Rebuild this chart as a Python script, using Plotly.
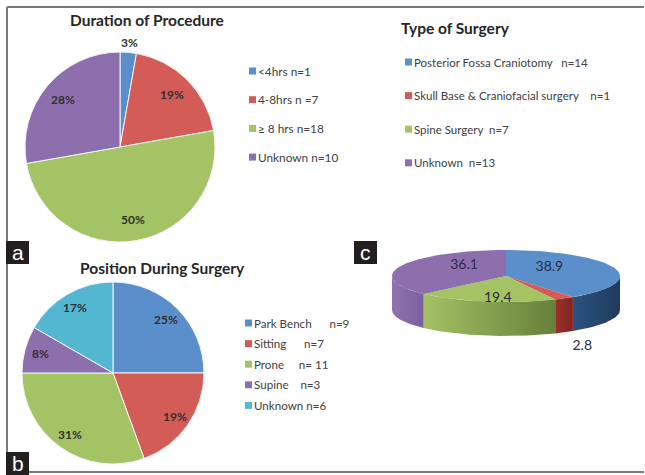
import html
import numpy as np
import plotly.graph_objects as go

W, H = 645, 475

# ---------------- data ----------------
DUR_TITLE = "Duration of Procedure"
DUR_LABELS = ["<4hrs n=1", "4-8hrs n =7", "≥ 8 hrs n=18", "Unknown n=10"]
DUR_VALUES = [1, 7, 18, 10]

POS_TITLE = "Position During Surgery"
POS_LABELS = ["Park Bench      n=9", "Sitting      n=7", "Prone     n= 11", "Supine    n=3", "Unknown n=6"]
POS_VALUES = [9, 7, 11, 3, 6]

TYPE_TITLE = "Type of Surgery"
TYPE_LABELS = ["Posterior Fossa Craniotomy   n=14", "Skull Base & Craniofacial surgery    n=1",
               "Spine Surgery  n=7", "Unknown  n=13"]
TYPE_PCT = [38.9, 2.8, 19.4, 36.1]

PANEL_LETTERS = ["a", "b", "c"]

# ---------------- style ----------------
BLUE, RED, GREEN, PURPLE, CYAN = "#5a8fcb", "#d45c57", "#a3c365", "#8e6fae", "#54b7d1"
COLORS = [BLUE, RED, GREEN, PURPLE, CYAN]
SIDE_GRAD = [("#2b5482", "#1f3a5c"), ("#a0302c", "#7e2522"),
             ("#a4c163", "#67803c"), ("#8f72b0", "#7c5f9d")]
FONT = "Lato"
TXT = "#404040"


def px(x):
    return x / W


def py(y):
    return 1 - y / H


fig = go.Figure()
shapes = []
annotations = []

# pie geometry (pixels): centre x, centre y, radius, label radius fraction
PIE_A = (120, 147, 95, 0.78)
PIE_B = (113, 373, 91, 0.83)


def add_pie(labels, values, geom, ncol):
    cx0, cy0, R, lf = geom
    fig.add_trace(go.Pie(
        labels=labels, values=values, sort=False, direction="clockwise",
        marker=dict(colors=COLORS[:ncol], line=dict(color="#f4f4f4", width=1)),
        textinfo="none",
        domain=dict(x=[px(cx0 - R), px(cx0 + R)], y=[py(cy0 + R), py(cy0 - R)]),
        showlegend=False, hoverinfo="label+value",
    ))
    v = np.array(values, dtype=float)
    fr = v / v.sum()
    mids = 2 * np.pi * (np.cumsum(fr) - fr / 2)
    for f, m in zip(fr, mids):
        r = R + 10 if f < 0.05 else lf * R
        annotations.append(dict(
            xref="paper", yref="paper",
            x=px(cx0 + r * np.sin(m)), y=py(cy0 - r * np.cos(m)),
            xanchor="center", yanchor="middle", showarrow=False,
            text=f"<b>{round(100 * f):.0f}%</b>",
            font=dict(family=FONT, size=12, color="#303030")))


add_pie(DUR_LABELS, DUR_VALUES, PIE_A, 4)
add_pie(POS_LABELS, POS_VALUES, PIE_B, 5)

# ---------------- panel c: 3D-style pie drawn from values ----------------
cx, cy, rx, ry, depth = 506, 276, 114, 26, 34
vals = np.array(TYPE_PCT, dtype=float)
fr = vals / vals.sum()
ends = 90 - 360 * np.cumsum(fr)
starts = np.concatenate([[90], ends[:-1]])

# side walls (front half only, t in [-180, 0])
for i in range(len(vals)):
    hi, lo = starts[i], ends[i]
    a_hi, a_lo = min(hi, 0), max(lo, -180)
    if a_lo < a_hi:
        t = np.radians(np.linspace(a_hi, a_lo, 40))
        xt = cx + rx * np.cos(t)
        yt = cy - ry * np.sin(t)
        xs = np.concatenate([xt, xt[::-1], xt[:1]])
        ys = np.concatenate([yt, yt[::-1] + depth, yt[:1]])
        c1, c2 = SIDE_GRAD[i]
        fig.add_trace(go.Scatter(
            x=xs, y=ys, mode="lines", fill="toself", line=dict(width=0),
            fillgradient=dict(type="horizontal", colorscale=[[0, c1], [1, c2]]),
            hoverinfo="skip", showlegend=False))

# top faces
for i in range(len(vals)):
    t = np.radians(np.linspace(starts[i], ends[i], 80))
    xs = np.concatenate([[cx], cx + rx * np.cos(t), [cx]])
    ys = np.concatenate([[cy], cy - ry * np.sin(t), [cy]])
    fig.add_trace(go.Scatter(
        x=xs, y=ys, mode="lines", fill="toself", line=dict(width=0),
        fillcolor=COLORS[i], hoverinfo="skip", showlegend=False))

# value labels
lx, ly, lt = [], [], []
for i in range(len(vals)):
    m = np.radians((starts[i] + ends[i]) / 2)
    if fr[i] < 0.05:
        lx.append(cx + rx * np.cos(m) + 18)
        ly.append(cy - ry * np.sin(m) + depth + 14)
    else:
        lx.append(cx + 0.4 * rx * np.cos(m))
        ly.append(cy - 0.9 * ry * np.sin(m) - 1)
    lt.append(f"{TYPE_PCT[i]:.1f}")
fig.add_trace(go.Scatter(
    x=lx, y=ly, text=lt, mode="text",
    textfont=dict(family=FONT, size=14, color="#2b2b48"),
    hoverinfo="skip", showlegend=False))

fig.update_xaxes(domain=[px(360), px(640)], range=[360, 640], visible=False, fixedrange=True)
fig.update_yaxes(domain=[py(360), py(240)], range=[360, 240], visible=False, fixedrange=True)


# ---------------- legends, titles, frame ----------------
def legend(labels, colors, sq_x, txt_x, y0, dy, size):
    for i, (lab, col) in enumerate(zip(labels, colors)):
        yy = y0 + i * dy
        shapes.append(dict(type="rect", xref="paper", yref="paper",
                           x0=px(sq_x), x1=px(sq_x + 7), y0=py(yy + 3.5), y1=py(yy - 3.5),
                           fillcolor=col, line=dict(width=0)))
        annotations.append(dict(xref="paper", yref="paper", x=px(txt_x), y=py(yy),
                                xanchor="left", yanchor="middle", showarrow=False,
                                text=html.escape(lab).replace(" ", "&nbsp;"),
                                font=dict(family=FONT, size=size, color=TXT)))


legend(DUR_LABELS, COLORS, 249, 256, 71, 28.7, 11.8)
legend(POS_LABELS, COLORS, 245, 252, 323, 20.6, 11.6)
legend(TYPE_LABELS, COLORS, 405, 412, 62, 33.6, 11.5)


def title(text, x, y, anchor):
    annotations.append(dict(xref="paper", yref="paper", x=px(x), y=py(y),
                            xanchor=anchor, yanchor="middle", showarrow=False,
                            text=f"<b>{text}</b>",
                            font=dict(family=FONT, size=15.5, color="#262626")))


title(DUR_TITLE, 147, 20, "center")
title(POS_TITLE, 162, 268, "center")
title(TYPE_TITLE, 399, 28, "left")

# frame lines (open on the right, as in the cropped original)
for (x0, y0, x1, y1) in [(7, 7, 644, 7), (7, 7, 7, 472), (7, 472, 644, 472)]:
    shapes.append(dict(type="line", xref="paper", yref="paper",
                       x0=px(x0), y0=py(y0), x1=px(x1), y1=py(y1),
                       line=dict(color="#7a7a7a", width=2)))

# panel letter boxes
for letter, (bx, by) in zip(PANEL_LETTERS, [(6, 241), (6, 452), (354, 241)]):
    shapes.append(dict(type="rect", xref="paper", yref="paper",
                       x0=px(bx), x1=px(bx + 23), y0=py(by + 23), y1=py(by),
                       fillcolor="#231f20", line=dict(width=0)))
    annotations.append(dict(xref="paper", yref="paper", x=px(bx + 11.5), y=py(by + 11),
                            xanchor="center", yanchor="middle", showarrow=False,
                            text=letter,
                            font=dict(family="Liberation Sans", size=21, color="white")))

fig.update_layout(
    width=W, height=H, margin=dict(l=0, r=0, t=0, b=0),
    paper_bgcolor="white", plot_bgcolor="white",
    showlegend=False, shapes=shapes, annotations=annotations,
)

fig.write_html("out.html", config={"displayModeBar": False},
               post_script="document.body.style.margin='0px';"
                           "document.body.style.overflow='hidden';"
                           "document.documentElement.style.overflow='hidden';")
